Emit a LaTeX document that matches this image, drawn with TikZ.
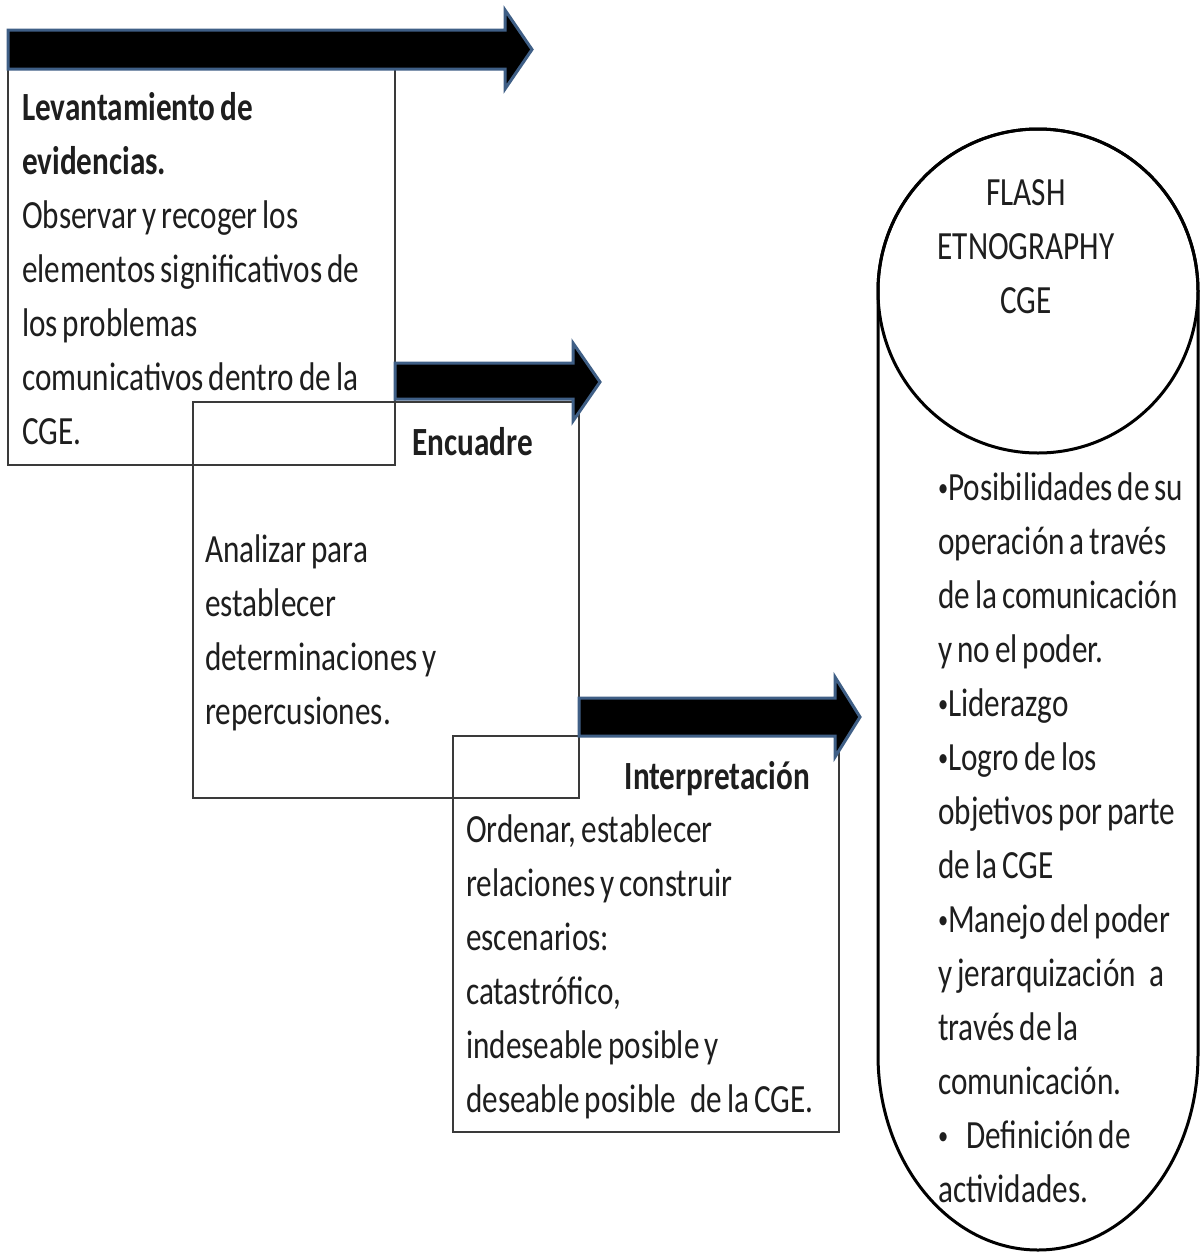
\documentclass[tikz,border=0pt]{standalone}
\usepackage{graphicx}
\usepackage{fontspec}
\setmainfont[FakeStretch=0.78]{Carlito}
\definecolor{arrowedge}{HTML}{3F5F86}
\definecolor{boxline}{HTML}{3A3A3A}
\definecolor{ink}{HTML}{1E1E1E}
\newcommand{\bodyfont}{\fontsize{40}{54}\selectfont}
\newcommand{\tightspaces}{\spaceskip=5pt plus 1pt minus 1pt\relax\xspaceskip=6pt\relax}
\newcommand{\bul}{\raisebox{4pt}{\scalebox{0.65}{•}}}
\begin{document}
\begin{tikzpicture}[x=1pt,y=-1pt]
\tikzset{
  stepbox/.style={draw=boxline, line width=1.5pt},
  bigarrow/.style={fill=black, draw=arrowedge, line width=3pt, line join=miter},
  txt/.style={inner sep=0pt, anchor=base west, text=ink, font=\bodyfont,
    execute at begin node={\raggedright\tightspaces}},
  ttl/.style={inner sep=0pt, text=ink, font=\bodyfont\bfseries},
}
\useasboundingbox[fill=white] (0,0) rectangle (1204,1254);

% three overlapping step boxes
\draw[stepbox] (8,69) rectangle (395,465);
\draw[stepbox] (193,402) rectangle (579,798);
\draw[stepbox] (453,736) rectangle (839,1132);

% block arrows above each box
\draw[bigarrow] (8,30) -- (505,30) -- (505,10) -- (532,49.5) -- (505,89) -- (505,69) -- (8,69) -- cycle;
\draw[bigarrow] (395,363) -- (573,363) -- (573,343) -- (600,382) -- (573,421) -- (573,399) -- (395,399) -- cycle;
\draw[bigarrow] (579,698) -- (835,698) -- (835,677) -- (860,717) -- (835,757) -- (835,736) -- (579,736) -- cycle;

% first step
\node[txt, text width=420pt] (lev) at (22,120)
  {\textbf{Levantamiento de}\\
   \textbf{evidencias.}\\
   Observar y recoger los\\
   elementos significativos de\\
   los problemas\\
   comunicativos dentro de la\\
   CGE.};

% second step
\node[ttl, anchor=base east] (enc) at (533,455) {Encuadre};
\node[txt, text width=420pt] (encbody) at (205,562)
  {Analizar para\\
   establecer\\
   determinaciones y\\
   repercusiones.};

% third step
\node[ttl, anchor=base east] (int) at (810,789) {Interpretación};
\node[txt, text width=420pt] (intbody) at (466,842)
  {Ordenar, establecer\\
   relaciones y construir\\
   escenarios:\\
   catastrófico,\\
   indeseable posible y\\
   deseable posible\hspace{14pt}de la CGE.};

% capsule with the heading circle
\draw[line width=3pt] (878,291) arc[start angle=180, end angle=360, x radius=160, y radius=162]
  -- (1198,1055) arc[start angle=0, end angle=180, x radius=160, y radius=195] -- cycle;
\draw[line width=3pt] (1038,291) ellipse[x radius=160, y radius=162];
\node[inner sep=0pt, anchor=base, text=ink, text width=300pt, font=\bodyfont,
  execute at begin node={\centering}] (flash) at (1026,205)
  {FLASH\\ETNOGRAPHY\\CGE};

\node[txt, text width=320pt] (list) at (938,500)
  {\bul Posibilidades de su\\
   operación a través\\
   de la comunicación\\
   y no el poder.\\
   \bul Liderazgo\\
   \bul Logro de los\\
   objetivos por parte\\
   de la CGE\\
   \bul Manejo del poder\\
   y jerarquización\hspace{14pt}a\\
   través de la\\
   comunicación.\\
   \bul\hspace{18pt}Definición de\\
   actividades.};
\end{tikzpicture}
\end{document}
